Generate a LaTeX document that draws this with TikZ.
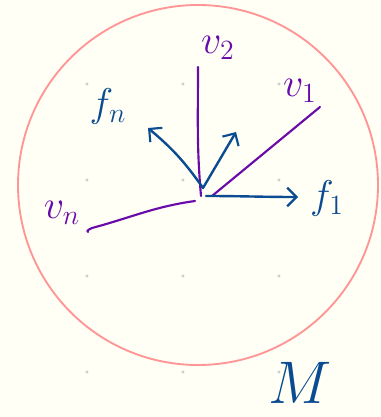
\documentclass[tikz,border=0pt]{standalone}
\usepackage{amsmath,amssymb}
\usetikzlibrary{positioning,calc}
\usetikzlibrary{arrows.meta}
\definecolor{PaperCream}{RGB}{255,255,245}
\definecolor{DotGray}{RGB}{205,205,205}
\definecolor{RingPink}{RGB}{255,150,150}
\definecolor{InkPurple}{RGB}{105,10,170}
\definecolor{InkBlue}{RGB}{10,75,145}
\tikzset{
  dot/.style={fill=DotGray},
  ring/.style={draw=RingPink,line width=1.4pt},
  vec/.style={draw=InkPurple,line width=1.6pt,line cap=round},
  frame/.style={draw=InkBlue,line width=1.8pt,line cap=round,
    -{Straight Barb[length=7pt,width=14pt,line width=1.6pt]}},
  plabel/.style={text=InkPurple,font=\huge,scale=1.45,inner sep=0pt},
  blabel/.style={text=InkBlue,font=\huge,scale=1.45,inner sep=0pt},
}
\begin{document}
\begin{tikzpicture}[x=0.75pt,y=-0.75pt]
    \fill[PaperCream] (0,0) rectangle (381,417);
    \useasboundingbox (0,0) rectangle (381,417);
    \foreach \x in {87,183,279}
      \foreach \y in {84,180,276,372}
        \fill[dot] (\x,\y) circle (1.6);
    \draw[ring] (198,185) circle (180);
    % base point and free ends
    \coordinate (o) at (201,196);
    \coordinate (v2end) at (198,67);
    \coordinate (v1end) at (320,107);
    \coordinate (vnend) at (88,232);
    \coordinate (fnend) at (148,128);
    \coordinate (mid) at (236,132);
    \coordinate (f1end) at (298,197);
    % labels
    \node[plabel] (v2) at (218,48) {$v_2$};
    \node[plabel] (v1) at (300,91) {$v_1$};
    \node[plabel] (vn) at (62,213) {$v_n$};
    \node[blabel] (fn) at (108,106) {$f_n$};
    \node[blabel] (f1) at (327,198) {$f_1$};
    \node[blabel,scale=1.5] (M) at (300,383) {$M$};
    % vectors
    \draw[vec] (o) to[out=95,in=-90] (v2end);
    \draw[vec] ($(o)+(11,0)$) -- (v1end);
    \draw[vec] ($(o)+(-6,5)$) to[out=188,in=15] ($(vnend)+(4,-4)$)
      to[out=195,in=150] (vnend);
    \draw[frame] ($(o)+(2,-8)$) to[out=125,in=-40] (fnend);
    \draw[frame] ($(o)+(2,-8)$) -- (mid);
    \draw[frame] ($(o)+(5,0)$) to[out=0,in=180] (f1end);
\end{tikzpicture}
\end{document}
